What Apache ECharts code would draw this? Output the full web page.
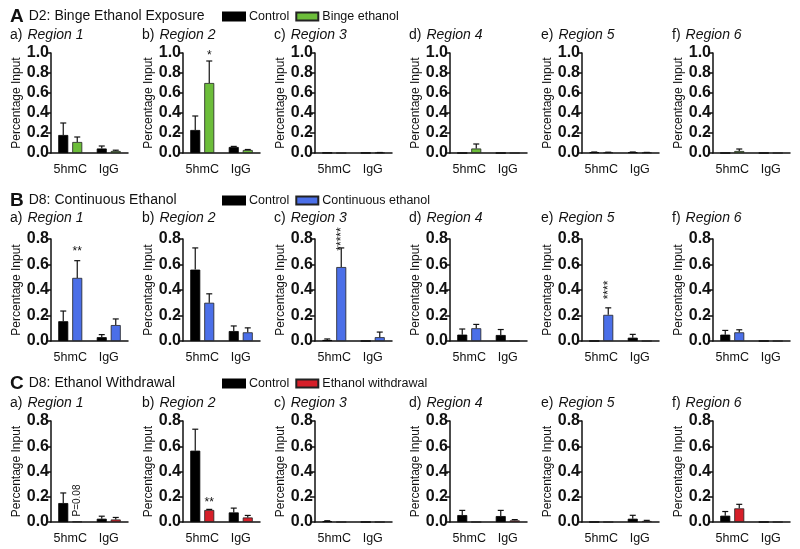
<!DOCTYPE html>
<html>
<head>
<meta charset="utf-8">
<script src="https://cdn.jsdelivr.net/npm/echarts@6/dist/echarts.min.js"></script>
<style>
  html, body { margin: 0; padding: 0; background: #fff; }
  #main { width: 800px; height: 549px; }
</style>
</head>
<body>
<div id="main"></div>
<script>
var categories = ['5hmC', 'IgG'];
var rowLetters = ['A', 'B', 'C'];
var rowTitles = ['D2: Binge Ethanol Exposure', 'D8: Continuous Ethanol', 'D8: Ethanol Withdrawal'];
var treatNames = ['Binge ethanol', 'Continuous ethanol', 'Ethanol withdrawal'];
var panelLetters = ['a)', 'b)', 'c)', 'd)', 'e)', 'f)'];
var regionNames = ['Region 1', 'Region 2', 'Region 3', 'Region 4', 'Region 5', 'Region 6'];
var yMax = [1.0, 0.8, 0.8];

// mean / SEM per region, [5hmC, IgG]
var ctrlMeanA = [[0.18, 0.045], [0.23, 0.06], [0.002, 0.001], [0, 0], [0.008, 0.008], [0, 0]];
var ctrlSemA = [[0.12, 0.025], [0.14, 0.006], [0, 0], [0, 0], [0.002, 0.002], [0, 0]];
var treatMeanA = [[0.11, 0.02], [0.70, 0.03], [0, 0.003], [0.045, 0], [0.006, 0.004], [0.02, 0]];
var treatSemA = [[0.05, 0.008], [0.22, 0.005], [0, 0.002], [0.045, 0], [0.002, 0.002], [0.02, 0]];

var ctrlMeanB = [[0.155, 0.03], [0.56, 0.078], [0.008, 0], [0.05, 0.047], [0, 0.026], [0.05, 0]];
var ctrlSemB = [[0.08, 0.02], [0.17, 0.04], [0.008, 0], [0.044, 0.043], [0, 0.026], [0.033, 0]];
var treatMeanB = [[0.495, 0.125], [0.30, 0.068], [0.58, 0.03], [0.10, 0], [0.205, 0], [0.068, 0]];
var treatSemB = [[0.135, 0.048], [0.07, 0.035], [0.15, 0.04], [0.03, 0], [0.055, 0], [0.02, 0]];

var ctrlMeanC = [[0.15, 0.026], [0.565, 0.076], [0.006, 0], [0.055, 0.047], [0, 0.026], [0.05, 0]];
var ctrlSemC = [[0.08, 0.02], [0.17, 0.034], [0.004, 0], [0.037, 0.045], [0, 0.027], [0.033, 0]];
var treatMeanC = [[0.004, 0.02], [0.095, 0.036], [0, 0], [0, 0.013], [0, 0.008], [0.108, 0]];
var treatSemC = [[0, 0.016], [0.005, 0.016], [0, 0], [0, 0.006], [0, 0.005], [0.032, 0]];

var ctrlMean = [ctrlMeanA, ctrlMeanB, ctrlMeanC];
var ctrlSem = [ctrlSemA, ctrlSemB, ctrlSemC];
var treatMean = [treatMeanA, treatMeanB, treatMeanC];
var treatSem = [treatSemA, treatSemB, treatSemC];

// significance marks: row, column, category, text, value (centre), rotated
var marks = [
  [0, 1, 0, '*', 0.97, false],
  [1, 0, 0, '**', 0.70, false],
  [1, 2, 0, '*****', 0.80, true],
  [1, 4, 0, '****', 0.40, true],
  [2, 0, 0, 'P=0.08', 0.17, true],
  [2, 1, 0, '**', 0.15, false]
];

var FONT = 'Liberation Sans, Arial, sans-serif';
var treatColors = ['#6cbd3a', '#4b6fe8', '#d61f29'];
var colLeft = [51, 183, 315, 450, 582, 713];
var rowTop = [53, 239, 421];
var rowHeight = [100, 102, 101];
var titleTop = [2, 186, 369];
var panelTop = [21, 204, 389];
var plotWidth = 77;
var barOffset = 7;

var chart = echarts.init(document.getElementById('main'));
var grids = [], xAxes = [], yAxes = [], series = [], titles = [], legends = [];

// 误差线（只画向上的 SEM）
function errRender(params, api) {
  var sem = api.value(2);
  if (!(sem > 0)) return;
  var side = api.value(3) === 0 ? -barOffset : barOffset;
  var p0 = api.coord([api.value(0), api.value(1)]);
  var p1 = api.coord([api.value(0), api.value(1) + sem]);
  var x = p0[0] + side;
  return {
    type: 'group',
    children: [
      { type: 'line', shape: { x1: x, y1: p0[1], x2: x, y2: p1[1] }, style: { stroke: '#111', lineWidth: 1.2 } },
      { type: 'line', shape: { x1: x - 3, y1: p1[1], x2: x + 3, y2: p1[1] }, style: { stroke: '#111', lineWidth: 1.2 } }
    ]
  };
}

// 显著性标记
function markRender(params, api) {
  var item = marks[api.value(2)];
  var p = api.coord([api.value(0), api.value(1)]);
  var rot = item[5];
  return {
    type: 'text',
    x: p[0] + barOffset,
    y: p[1],
    rotation: rot ? Math.PI / 2 : 0,
    style: {
      text: item[3],
      fill: '#111',
      font: (rot && item[3].charAt(0) === 'P' ? '10px ' : '12px ') + FONT,
      align: 'center',
      verticalAlign: 'middle'
    }
  };
}

for (var r = 0; r < 3; r++) {
  titles.push({
    text: '{l|' + rowLetters[r] + '} {t|' + rowTitles[r] + '}',
    left: 5, top: titleTop[r],
    textStyle: {
      rich: {
        l: { fontSize: 19, fontWeight: 'bold', color: '#111', fontFamily: FONT },
        t: { fontSize: 14, fontWeight: 'normal', color: '#111', fontFamily: FONT }
      }
    }
  });
  legends.push({
    data: ['Control', treatNames[r]],
    left: 217, top: titleTop[r] + 3,
    icon: 'rect',
    itemWidth: 22, itemHeight: 8, itemGap: 6,
    selectedMode: false,
    textStyle: { fontSize: 12.5, color: '#111', fontFamily: FONT, padding: [0, 0, 0, -1] }
  });
  for (var c = 0; c < 6; c++) {
    var i = r * 6 + c;
    titles.push({
      text: '{n|' + panelLetters[c] + '} {i|' + regionNames[c] + '}',
      left: colLeft[c] - 46, top: panelTop[r],
      textStyle: {
        rich: {
          n: { fontSize: 14, fontWeight: 'normal', color: '#111', fontFamily: FONT },
          i: { fontSize: 14, fontWeight: 'normal', fontStyle: 'italic', color: '#111', fontFamily: FONT }
        }
      }
    });
    grids.push({ left: colLeft[c], top: rowTop[r], width: plotWidth, height: rowHeight[r] });
    xAxes.push({
      gridIndex: i, type: 'category', data: categories,
      axisLine: { lineStyle: { color: '#111', width: 1.5 } },
      axisTick: { alignWithLabel: true, length: 5, lineStyle: { color: '#111', width: 1.5 } },
      axisLabel: { interval: 0, fontSize: 12.5, color: '#111', margin: 10, fontFamily: FONT }
    });
    yAxes.push({
      gridIndex: i, type: 'value', min: 0, max: yMax[r], interval: 0.2,
      name: 'Percentage Input', nameLocation: 'middle', nameGap: 28,
      nameTextStyle: { fontSize: 12, color: '#111', fontFamily: FONT },
      axisLine: { show: true, lineStyle: { color: '#111', width: 1.5 } },
      axisTick: { show: true, length: 5, lineStyle: { color: '#111', width: 1.5 } },
      splitLine: { show: false },
      axisLabel: {
        fontSize: 16, fontWeight: 'bold', color: '#111', margin: 2, fontFamily: FONT,
        formatter: function (v) { return v.toFixed(1); }
      }
    });
    series.push({
      name: 'Control', type: 'bar', xAxisIndex: i, yAxisIndex: i,
      data: ctrlMean[r][c], barWidth: 10, barGap: '40%',
      itemStyle: { color: '#000', borderColor: '#000', borderWidth: 0.8 },
      silent: true
    });
    series.push({
      name: treatNames[r], type: 'bar', xAxisIndex: i, yAxisIndex: i,
      data: treatMean[r][c], barWidth: 10, barGap: '40%',
      itemStyle: { color: treatColors[r], borderColor: '#222', borderWidth: 0.8 },
      silent: true
    });
    var errData = [];
    for (var k = 0; k < categories.length; k++) {
      errData.push([k, ctrlMean[r][c][k], ctrlSem[r][c][k], 0]);
      errData.push([k, treatMean[r][c][k], treatSem[r][c][k], 1]);
    }
    series.push({
      type: 'custom', xAxisIndex: i, yAxisIndex: i, z: 5, clip: false, silent: true,
      renderItem: errRender, data: errData
    });
    var markData = [];
    for (var m = 0; m < marks.length; m++) {
      if (marks[m][0] === r && marks[m][1] === c) markData.push([marks[m][2], marks[m][4], m]);
    }
    if (markData.length) {
      series.push({
        type: 'custom', xAxisIndex: i, yAxisIndex: i, z: 6, clip: false, silent: true,
        renderItem: markRender, data: markData
      });
    }
  }
}

chart.setOption({
  animation: false,
  backgroundColor: '#fff',
  title: titles,
  legend: legends,
  grid: grids,
  xAxis: xAxes,
  yAxis: yAxes,
  series: series
});
</script>
</body>
</html>
